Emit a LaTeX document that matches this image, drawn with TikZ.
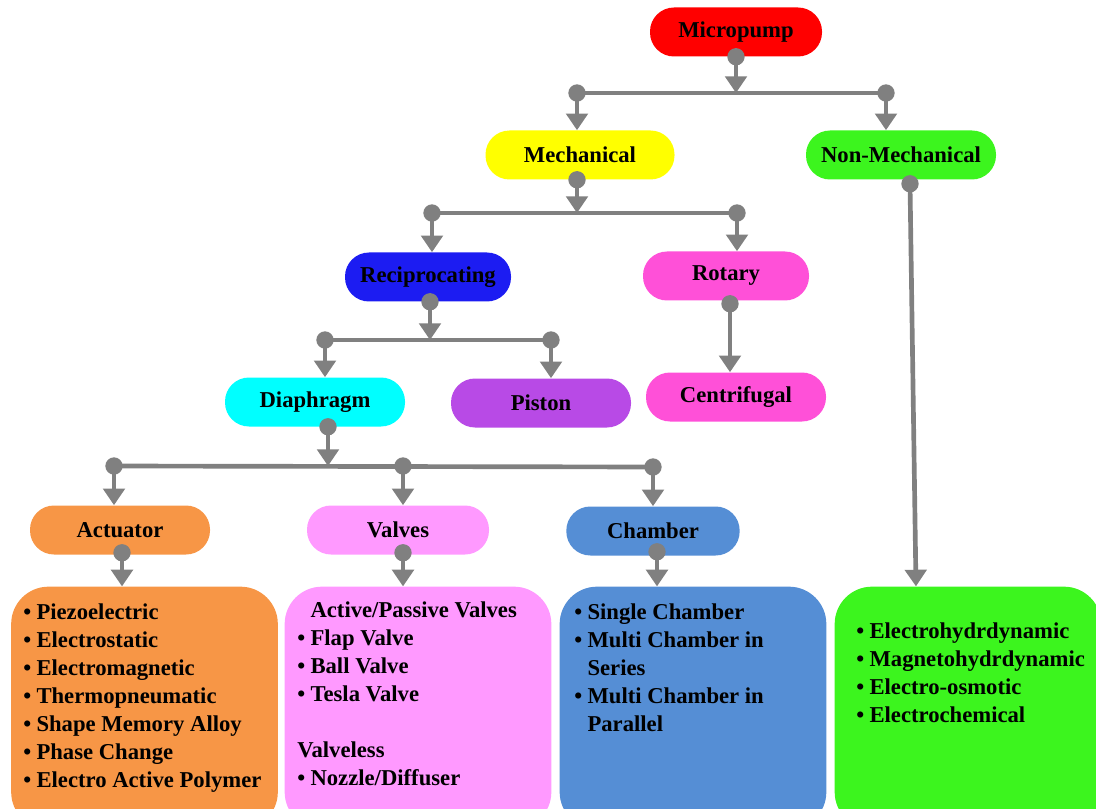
\documentclass[tikz,border=0pt]{standalone}
\usepackage{fontspec}
\setmainfont{Liberation Serif}
\usetikzlibrary{arrows.meta,calc}
\definecolor{gr}{HTML}{808080}
\definecolor{cRed}{HTML}{FF0000}
\definecolor{cYel}{HTML}{FFFF00}
\definecolor{cGrn}{HTML}{3CF51E}
\definecolor{cBlu}{HTML}{1C1CF2}
\definecolor{cMag}{HTML}{FF50D8}
\definecolor{cCya}{HTML}{00FFFF}
\definecolor{cPur}{HTML}{B84AE6}
\definecolor{cOra}{HTML}{F79646}
\definecolor{cPnk}{HTML}{FF99FF}
\definecolor{cCha}{HTML}{558ED5}
\tikzset{
  pill/.style={rounded corners=18pt, minimum height=36.75pt, inner sep=0pt,
    font=\bfseries\fontsize{17}{20}\selectfont, text=black},
  bigbox/.style={rounded corners=28pt, minimum height=182pt, minimum width=200pt, inner sep=0pt},
  listtext/.style={inner sep=0pt, anchor=base west, font=\bfseries\fontsize{17}{21}\selectfont},
  conn/.style={draw=gr, line width=3.5pt},
  arr/.style={conn, -{Triangle[width=16pt,length=12.5pt]}},
  dotc/.style={fill=gr}
}
\begin{document}
\begin{tikzpicture}[x=0.75pt,y=-0.75pt]
\useasboundingbox (0,0) rectangle (1096,809);
\clip (0,0) rectangle (1096,809);

% category nodes
\node[pill,fill=cRed,minimum width=129pt] (mp) at (736,32) {Micropump};
\node[pill,fill=cYel,minimum width=141.75pt] (mech) at (580,155) {Mechanical};
\node[pill,fill=cGrn,minimum width=142.5pt] (nm) at (901,155) {Non-Mechanical};
\node[pill,fill=cBlu,minimum width=124.5pt] (rec) at (428,277) {Reciprocating};
\node[pill,fill=cMag,minimum width=124.5pt] (rot) at (726,276) {Rotary};
\node[pill,fill=cCya,minimum width=135pt] (dia) at (315,402) {Diaphragm};
\node[pill,fill=cPur,minimum width=135pt] (pis) at (541,403) {Piston};
\node[pill,fill=cMag,minimum width=135pt] (cen) at (736,397) {Centrifugal};
\node[pill,fill=cOra,minimum width=135pt] (act) at (120,530) {Actuator};
\node[pill,fill=cPnk,minimum width=136.5pt] (val) at (398,530) {Valves};
\node[pill,fill=cCha,minimum width=130pt] (cha) at (653,531) {Chamber};

% big boxes
\node[bigbox,fill=cOra] (actb) at (144.5,708) {};
\node[bigbox,fill=cPnk] (valb) at (418,708) {};
\node[bigbox,fill=cCha] (chab) at (693,708) {};
\node[bigbox,fill=cGrn] (nmb) at (968,708) {};

% lists
\node[listtext] (actl) at (23,619) {\begin{tabular}[t]{@{}l@{\hspace{4pt}}l@{}}
\textbullet & Piezoelectric\\
\textbullet & Electrostatic\\
\textbullet & Electromagnetic\\
\textbullet & Thermopneumatic\\
\textbullet & Shape Memory Alloy\\
\textbullet & Phase Change\\
\textbullet & Electro Active Polymer
\end{tabular}};
\node[listtext] (vall) at (297,617) {\begin{tabular}[t]{@{}l@{\hspace{4pt}}l@{}}
 & Active/Passive Valves\\
\textbullet & Flap Valve\\
\textbullet & Ball Valve\\
\textbullet & Tesla Valve\\
 & \\
\multicolumn{2}{@{}l@{}}{Valveless}\\
\textbullet & Nozzle/Diffuser
\end{tabular}};
\node[listtext] (chal) at (574,619) {\begin{tabular}[t]{@{}l@{\hspace{4pt}}l@{}}
\textbullet & Single Chamber\\
\textbullet & Multi Chamber in\\
 & Series\\
\textbullet & Multi Chamber in\\
 & Parallel
\end{tabular}};
\node[listtext] (nml) at (856,638) {\begin{tabular}[t]{@{}l@{\hspace{4pt}}l@{}}
\textbullet & Electrohydrdynamic\\
\textbullet & Magnetohydrdynamic\\
\textbullet & Electro-osmotic\\
\textbullet & Electrochemical
\end{tabular}};

% connectors level 1
\coordinate (b1l) at (577,93);
\coordinate (b1r) at (886,93);
\draw[conn] (b1l) -- (b1r);
\draw[arr] (mp.south) -- (mp.south |- b1l);
\draw[arr] (b1l) -- (b1l |- mech.north);
\draw[arr] (b1r) -- (b1r |- nm.north);
\fill[dotc] (mp.south) circle (6.5pt) (b1l) circle (6.5pt) (b1r) circle (6.5pt);

% level 2
\coordinate (mechd) at ($(mech.south)+(-3,0)$);
\coordinate (b2l) at (432,213);
\coordinate (b2r) at (737,213);
\draw[conn] (b2l) -- (b2r);
\draw[arr] (mechd) -- (mechd |- b2l);
\draw[arr] (b2l) -- (b2l |- rec.north);
\draw[arr] (b2r) -- (b2r |- rot.north);
\fill[dotc] (mechd) circle (6.5pt) (b2l) circle (6.5pt) (b2r) circle (6.5pt);

% level 3
\coordinate (recd) at ($(rec.south)+(2,0)$);
\coordinate (b3l) at (325,340);
\coordinate (b3r) at (551,340);
\draw[conn] (b3l) -- (b3r);
\draw[arr] (recd) -- (recd |- b3l);
\draw[arr] (b3l) -- (b3l |- dia.north);
\draw[arr] (b3r) -- (b3r |- pis.north);
\fill[dotc] (recd) circle (6.5pt) (b3l) circle (6.5pt) (b3r) circle (6.5pt);

% rotary
\coordinate (rotd) at ($(rot.south)+(4,3)$);
\draw[arr] (rotd) -- (rotd |- cen.north);
\fill[dotc] (rotd) circle (6.5pt);

% level 4
\coordinate (diad) at ($(dia.south)+(13,0)$);
\coordinate (b4l) at (114,466);
\coordinate (b4m) at (403,466);
\coordinate (b4r) at (653,467);
\draw[conn] (b4l) -- (b4r);
\draw[arr] (diad) -- (diad |- b4l);
\draw[arr] (b4l) -- (b4l |- act.north);
\draw[arr] (b4m) -- (b4m |- val.north);
\draw[arr] (b4r) -- (b4r |- cha.north);
\fill[dotc] (diad) circle (6.5pt) (b4l) circle (6.5pt) (b4m) circle (6.5pt) (b4r) circle (6.5pt);

% to lists
\coordinate (actd) at ($(act.south)+(2,-2)$);
\coordinate (vald) at ($(val.south)+(5,-2)$);
\coordinate (chad) at ($(cha.south)+(4,-4)$);
\draw[arr] (actd) -- (actd |- actb.north);
\draw[arr] (vald) -- (vald |- valb.north);
\draw[arr] (chad) -- (chad |- chab.north);
\fill[dotc] (actd) circle (6.5pt) (vald) circle (6.5pt) (chad) circle (6.5pt);

% non-mechanical
\coordinate (nmd) at ($(nm.south)+(9,4)$);
\draw[arr] (nmd) -- ($(nmb.north)+(-52,0)$);
\fill[dotc] (nmd) circle (6.5pt);
\end{tikzpicture}
\end{document}
